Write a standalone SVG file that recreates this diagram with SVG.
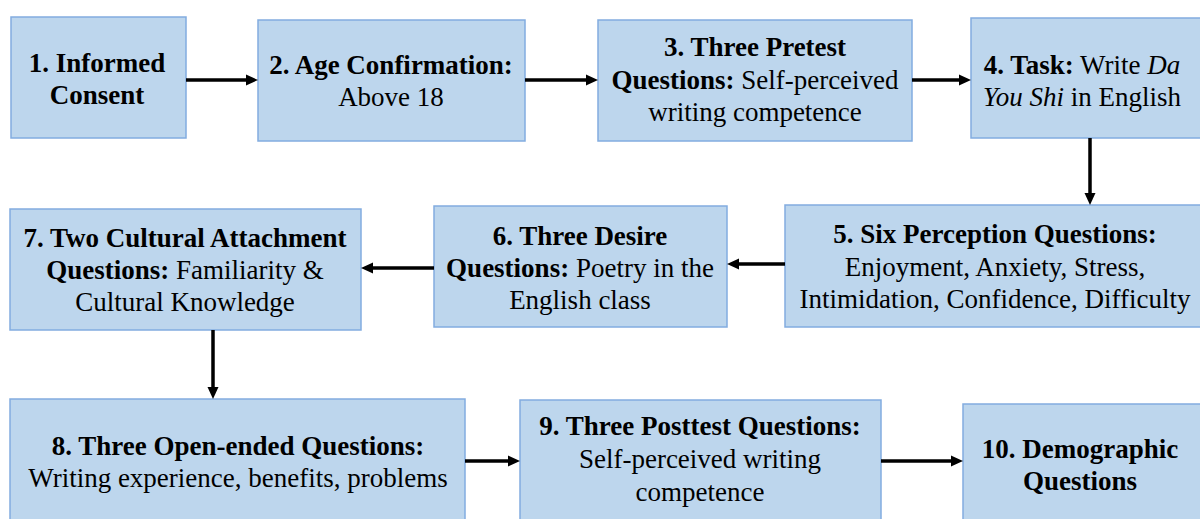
<svg xmlns="http://www.w3.org/2000/svg" width="1200" height="519" viewBox="0 0 1200 519">
<style>
.box{fill:#bdd6ed;stroke:#82ace0;stroke-width:1.5}
.b{font-weight:bold}
.i{font-style:italic}
.c{stroke:#000;stroke-width:3.5;fill:none}
.h{fill:#000}
</style>
<rect width="1200" height="519" fill="#fff"/>
<g id="n1"><rect class="box" x="11" y="17" width="175" height="121"/>
<text font-family="Liberation Serif" font-size="27" text-anchor="middle" x="97" y="72" class="b">1. Informed</text>
<text font-family="Liberation Serif" font-size="27" text-anchor="middle" x="97" y="104" class="b">Consent</text></g>
<g id="n2"><rect class="box" x="258" y="20" width="267" height="121"/>
<text font-family="Liberation Serif" font-size="27" text-anchor="middle" x="391" y="74" class="b">2. Age Confirmation:</text>
<text font-family="Liberation Serif" font-size="27" text-anchor="middle" x="391" y="106">Above 18</text></g>
<g id="n3"><rect class="box" x="598" y="20" width="314" height="121"/>
<text font-family="Liberation Serif" font-size="27" text-anchor="middle" x="755" y="56" class="b">3. Three Pretest</text>
<text font-family="Liberation Serif" font-size="27" text-anchor="middle" x="755" y="89"><tspan class="b">Questions:</tspan> Self-perceived</text>
<text font-family="Liberation Serif" font-size="27" text-anchor="middle" x="755" y="121">writing competence</text></g>
<g id="n4"><rect class="box" x="971" y="18" width="240" height="120"/>
<text font-family="Liberation Serif" font-size="27" text-anchor="middle" x="1082" y="74"><tspan class="b">4. Task:</tspan> Write <tspan class="i">Da</tspan></text>
<text font-family="Liberation Serif" font-size="27" text-anchor="middle" x="1082" y="106"><tspan class="i">You Shi</tspan> in English</text></g>
<g id="n5"><rect class="box" x="785" y="205" width="425" height="122"/>
<text font-family="Liberation Serif" font-size="27" text-anchor="middle" x="995" y="243" class="b">5. Six Perception Questions:</text>
<text font-family="Liberation Serif" font-size="27" text-anchor="middle" x="995" y="276">Enjoyment, Anxiety, Stress,</text>
<text font-family="Liberation Serif" font-size="27" text-anchor="middle" x="995" y="308">Intimidation, Confidence, Difficulty</text></g>
<g id="n6"><rect class="box" x="434" y="206" width="293" height="121"/>
<text font-family="Liberation Serif" font-size="27" text-anchor="middle" x="580" y="245" class="b">6. Three Desire</text>
<text font-family="Liberation Serif" font-size="27" text-anchor="middle" x="580" y="277"><tspan class="b">Questions:</tspan> Poetry in the</text>
<text font-family="Liberation Serif" font-size="27" text-anchor="middle" x="580" y="309">English class</text></g>
<g id="n7"><rect class="box" x="10" y="209" width="351" height="121"/>
<text font-family="Liberation Serif" font-size="27" text-anchor="middle" x="185" y="247" class="b">7. Two Cultural Attachment</text>
<text font-family="Liberation Serif" font-size="27" text-anchor="middle" x="185" y="279"><tspan class="b">Questions:</tspan> Familiarity &amp;</text>
<text font-family="Liberation Serif" font-size="27" text-anchor="middle" x="185" y="311">Cultural Knowledge</text></g>
<g id="n8"><rect class="box" x="10" y="399" width="455" height="130"/>
<text font-family="Liberation Serif" font-size="27" text-anchor="middle" x="238" y="455" class="b">8. Three Open-ended Questions:</text>
<text font-family="Liberation Serif" font-size="27" text-anchor="middle" x="238" y="487">Writing experience, benefits, problems</text></g>
<g id="n9"><rect class="box" x="520" y="400" width="361" height="129"/>
<text font-family="Liberation Serif" font-size="27" text-anchor="middle" x="700" y="435" class="b">9. Three Posttest Questions:</text>
<text font-family="Liberation Serif" font-size="27" text-anchor="middle" x="700" y="468">Self-perceived writing</text>
<text font-family="Liberation Serif" font-size="27" text-anchor="middle" x="700" y="501">competence</text></g>
<g id="n10"><rect class="box" x="963" y="404" width="247" height="125"/>
<text font-family="Liberation Serif" font-size="27" text-anchor="middle" x="1080" y="458" class="b">10. Demographic</text>
<text font-family="Liberation Serif" font-size="27" text-anchor="middle" x="1080" y="490" class="b">Questions</text></g>
<g id="connectors">
<line class="c" x1="186" y1="80" x2="247" y2="80"/><polygon class="h" points="258,80 246,74.5 246,85.5"/>
<line class="c" x1="525" y1="80" x2="587" y2="80"/><polygon class="h" points="598,80 586,74.5 586,85.5"/>
<line class="c" x1="912" y1="80" x2="960" y2="80"/><polygon class="h" points="971,80 959,74.5 959,85.5"/>
<line class="c" x1="1090" y1="138" x2="1090" y2="194"/><polygon class="h" points="1090,205 1084.5,193 1095.5,193"/>
<line class="c" x1="785" y1="264" x2="738" y2="264"/><polygon class="h" points="727,264 739,258.5 739,269.5"/>
<line class="c" x1="434" y1="268" x2="372" y2="268"/><polygon class="h" points="361,268 373,262.5 373,273.5"/>
<line class="c" x1="213" y1="330" x2="213" y2="388"/><polygon class="h" points="213,399 207.5,387 218.5,387"/>
<line class="c" x1="465" y1="461" x2="509" y2="461"/><polygon class="h" points="520,461 508,455.5 508,466.5"/>
<line class="c" x1="881" y1="461" x2="952" y2="461"/><polygon class="h" points="963,461 951,455.5 951,466.5"/>
</g>
</svg>
